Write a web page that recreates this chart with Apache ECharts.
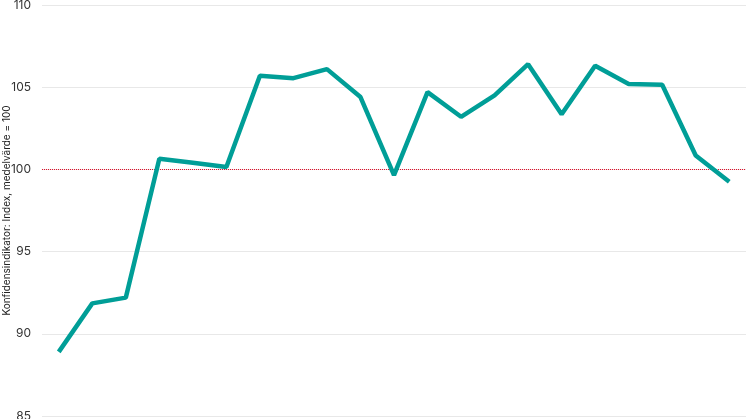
<!DOCTYPE html>
<html><head><meta charset="utf-8">
<script src="https://cdn.jsdelivr.net/npm/echarts@6/dist/echarts.min.js"></script>
<style>html,body{margin:0;padding:0;background:#fff}#c{width:746px;height:419px}</style>
</head><body><div id="c"></div>
<script>
const categories = ['1','2','3','4','5','6','7','8','9','10','11','12','13','14','15','16','17','18','19','20','21'];
const values = [88.9, 91.85, 92.2, 100.65, 100.4, 100.15, 105.7, 105.55, 106.1, 104.4, 99.65, 104.7, 103.2, 104.5, 106.4, 103.35, 106.3, 105.2, 105.15, 100.85, 99.25];
const yTicks = {min: 85, max: 110, interval: 5};
const refValue = 100;
const yName = 'Konfidensindikator: Index, medelvärde = 100';

const chart = echarts.init(document.getElementById('c'));
chart.setOption({
  animation: false,
  grid: {left: 42, right: 0, top: 5, bottom: 3, containLabel: false, outerBoundsMode: 'none'},
  xAxis: {
    type: 'category', data: categories, boundaryGap: true,
    axisLine: {show: false}, axisTick: {show: false}, axisLabel: {show: false}
  },
  yAxis: {
    type: 'value', min: yTicks.min, max: yTicks.max, interval: yTicks.interval,
    name: yName, nameLocation: 'middle', nameGap: 30, nameRotate: 90, nameMoveOverlap: false,
    nameTextStyle: {fontFamily: 'Inter', fontSize: 10, color: '#222'},
    axisLine: {show: false}, axisTick: {show: false},
    axisLabel: {fontFamily: 'Inter', fontSize: 12, color: '#333', margin: 11},
    splitLine: {lineStyle: {color: '#e8e8e8', width: 1}}
  },
  series: [{
    type: 'line', data: values, symbol: 'none',
    lineStyle: {color: '#009e97', width: 4.5}, z: 3,
    markLine: {
      silent: true, symbol: 'none', label: {show: false},
      lineStyle: {color: '#e0102a', type: 'dotted', width: 1, opacity: 1},
      data: [{yAxis: refValue}], z: 2
    }
  }]
});
</script></body></html>
